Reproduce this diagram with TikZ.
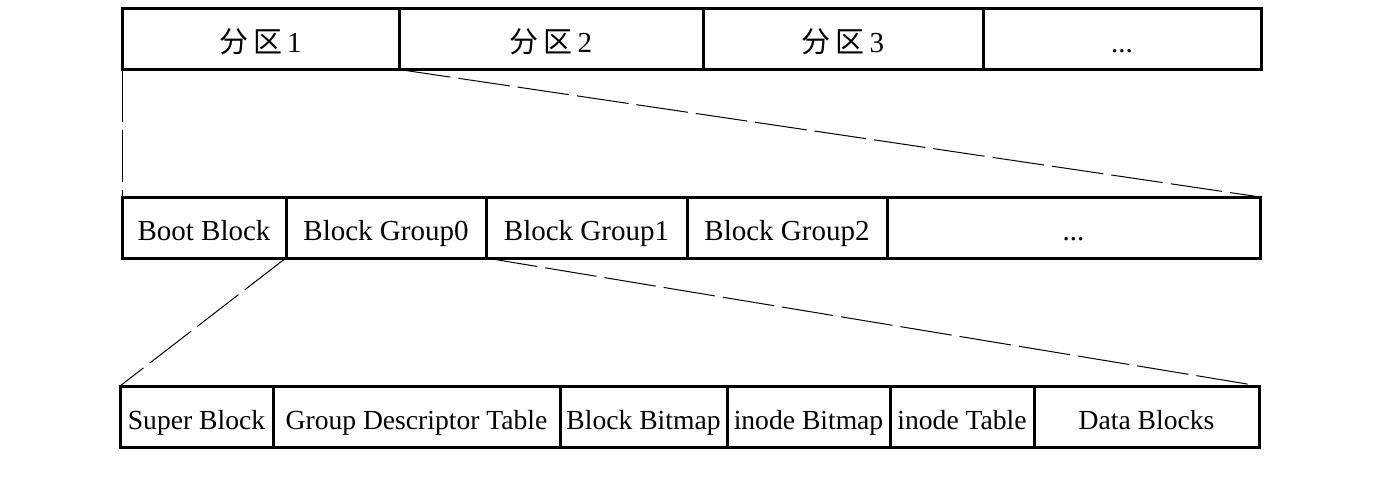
\documentclass[tikz,border=0pt]{standalone}
\usepackage{fontspec}
\setmainfont{Liberation Serif}
\newfontfamily\cjk{Noto Sans CJK SC}
\usetikzlibrary{positioning}

\tikzset{
  cell/.style={draw, line width=1.5pt, outer sep=0pt, inner sep=0pt,
    minimum height=30.5pt, text height=13pt, text depth=0pt,
    font=\fontsize{14.5}{16}\selectfont},
  small cell/.style={cell, font=\fontsize{13.8}{16}\selectfont},
  zoomline/.style={line width=0.5pt, dash pattern=on 26pt off 4pt},
}

\begin{document}
\begin{tikzpicture}[x=0.5pt,y=-0.5pt]
  \useasboundingbox (0,0) rectangle (1400,488);

  % partitions
  \node [cell, minimum width=138.5pt, anchor=north west] (p1) at (122,8.5) {{\cjk 分\,区}\,1};
  \node [cell, minimum width=152pt, right=0pt of p1] (p2) {{\cjk 分\,区}\,2};
  \node [cell, minimum width=140pt, right=0pt of p2] (p3) {{\cjk 分\,区}\,3};
  \node [cell, minimum width=139pt, right=0pt of p3] (pmore) {...};

  % one partition
  \node [cell, minimum width=82pt, anchor=north west] (boot) at (122,197) {Boot Block};
  \node [cell, minimum width=100pt, right=0pt of boot] (bg0) {Block Group0};
  \node [cell, minimum width=100.5pt, right=0pt of bg0] (bg1) {Block Group1};
  \node [cell, minimum width=100pt, right=0pt of bg1] (bg2) {Block Group2};
  \node [cell, minimum width=186.5pt, right=0pt of bg2] (bgmore) {...};

  % one block group
  \node [small cell, minimum width=76.5pt, anchor=north west] (sb) at (120,386) {Super Block};
  \node [small cell, minimum width=143.5pt, right=0pt of sb] (gdt) {Group Descriptor Table};
  \node [small cell, minimum width=83.5pt, right=0pt of gdt] (bbm) {Block Bitmap};
  \node [small cell, minimum width=81.5pt, right=0pt of bbm] (ibm) {inode Bitmap};
  \node [small cell, minimum width=72pt, right=0pt of ibm] (itab) {inode Table};
  \node [small cell, minimum width=112.5pt, right=0pt of itab] (data) {Data Blocks};

  \draw [zoomline] (p1.south west) -- (boot.north west);
  \draw [zoomline] (p1.south east) -- (bgmore.north east);
  \draw [zoomline] (bg0.south west) -- (sb.north west);
  \draw [zoomline] (bg0.south east) -- (data.north east);
\end{tikzpicture}
\end{document}
